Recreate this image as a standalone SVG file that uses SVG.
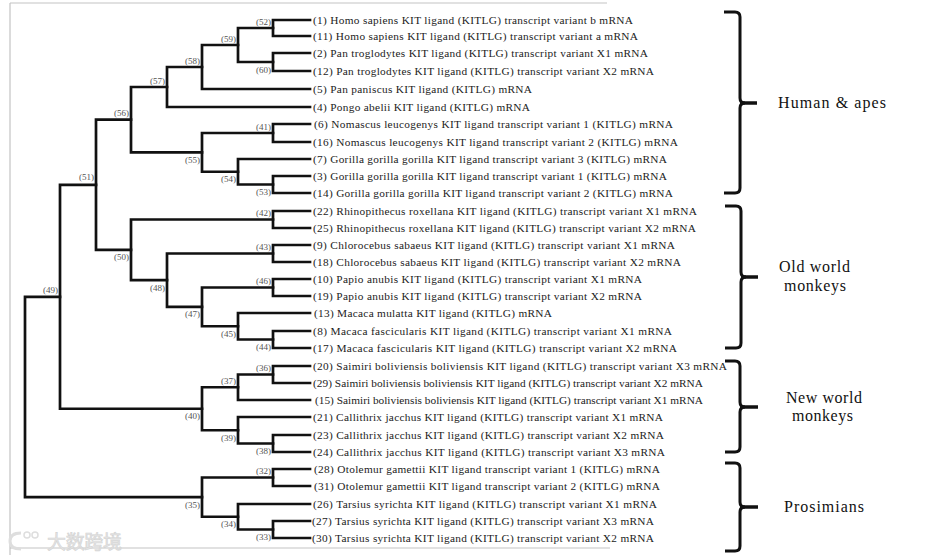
<svg xmlns="http://www.w3.org/2000/svg" width="928" height="558" viewBox="0 0 928 558">
<style>
.frame{stroke:#c4c4c4;stroke-width:1.2;fill:none}
.br{stroke:#111;stroke-width:2.7;fill:none;stroke-linejoin:miter;stroke-linecap:square}
.leaf{font-family:"Liberation Serif","Times New Roman",serif;font-size:11.3px;fill:#222}
.nl{font-family:"Liberation Serif","Times New Roman",serif;font-size:9px;fill:#555;text-anchor:end}
.clade{font-family:"Liberation Serif","Times New Roman",serif;font-size:16px;fill:#111}
.brace{stroke:#111;stroke-width:3;fill:none}
.tip{stroke:#111;stroke-width:3.5}
.wm{font-family:"Noto Sans CJK SC",sans-serif;font-size:19px;fill:#e4e4e4;stroke:#d4d4d4;stroke-width:0.6}
</style>
<rect width="928" height="558" fill="#fff"/>
<g id="frame">
<path class="frame" d="M10,3 H607 M10,3 V555 M10,548 H610"/>
</g>
<g id="connectors">
<path class="br" d="M310,20 H273 V36 H310"/>
<path class="br" d="M310,53 H273 V71 H310"/>
<path class="br" d="M273,28 H238 V62 H273"/>
<path class="br" d="M238,45 H202 V89 H310"/>
<path class="br" d="M202,67 H167 V107 H310"/>
<path class="br" d="M310,124 H273 V142 H310"/>
<path class="br" d="M310,176 H273 V193 H310"/>
<path class="br" d="M310,159 H238 V184.5 H273"/>
<path class="br" d="M273,133 H202 V171.75 H238"/>
<path class="br" d="M167,87 H131 V152.4 H202"/>
<path class="br" d="M310,211 H273 V228 H310"/>
<path class="br" d="M310,245 H273 V262 H310"/>
<path class="br" d="M310,279 H273 V296 H310"/>
<path class="br" d="M310,331 H273 V348 H310"/>
<path class="br" d="M310,313 H238 V339.5 H273"/>
<path class="br" d="M273,287.5 H202 V326.25 H238"/>
<path class="br" d="M273,253.5 H167 V306.9 H202"/>
<path class="br" d="M273,219.5 H131 V280.2 H167"/>
<path class="br" d="M131,119.7 H96 V249.8 H131"/>
<path class="br" d="M310,366 H273 V383 H310"/>
<path class="br" d="M273,374.5 H238 V400 H310"/>
<path class="br" d="M310,435 H273 V452 H310"/>
<path class="br" d="M310,417 H238 V443.5 H273"/>
<path class="br" d="M238,387.25 H202 V430.25 H238"/>
<path class="br" d="M96,184.8 H60 V408.75 H202"/>
<path class="br" d="M310,469 H273 V486 H310"/>
<path class="br" d="M310,521 H273 V538 H310"/>
<path class="br" d="M310,504 H238 V529.5 H273"/>
<path class="br" d="M273,477.5 H202 V516.75 H238"/>
<path class="br" d="M60,296.8 H25 V497.1 H202"/>
</g>
<g id="internal-nodes">
<g id="node-52"><text class="nl" x="271" y="24.5">(52)</text></g>
<g id="node-60"><text class="nl" x="271" y="72.5">(60)</text></g>
<g id="node-59"><text class="nl" x="236" y="41.5">(59)</text></g>
<g id="node-58"><text class="nl" x="200" y="63.5">(58)</text></g>
<g id="node-57"><text class="nl" x="165" y="83.5">(57)</text></g>
<g id="node-56"><text class="nl" x="129" y="116">(56)</text></g>
<g id="node-55"><text class="nl" x="200" y="163">(55)</text></g>
<g id="node-41"><text class="nl" x="271" y="129.5">(41)</text></g>
<g id="node-54"><text class="nl" x="236" y="182">(54)</text></g>
<g id="node-53"><text class="nl" x="271" y="195">(53)</text></g>
<g id="node-51"><text class="nl" x="94" y="180">(51)</text></g>
<g id="node-42"><text class="nl" x="271" y="216">(42)</text></g>
<g id="node-50"><text class="nl" x="129" y="260">(50)</text></g>
<g id="node-43"><text class="nl" x="271" y="250">(43)</text></g>
<g id="node-49"><text class="nl" x="58" y="293">(49)</text></g>
<g id="node-48"><text class="nl" x="165" y="291">(48)</text></g>
<g id="node-46"><text class="nl" x="271" y="284">(46)</text></g>
<g id="node-47"><text class="nl" x="200" y="317">(47)</text></g>
<g id="node-45"><text class="nl" x="236" y="336.5">(45)</text></g>
<g id="node-44"><text class="nl" x="271" y="350">(44)</text></g>
<g id="node-36"><text class="nl" x="271" y="370.5">(36)</text></g>
<g id="node-37"><text class="nl" x="236" y="384">(37)</text></g>
<g id="node-40"><text class="nl" x="200" y="419">(40)</text></g>
<g id="node-39"><text class="nl" x="236" y="440.5">(39)</text></g>
<g id="node-38"><text class="nl" x="271" y="454">(38)</text></g>
<g id="node-32"><text class="nl" x="271" y="474">(32)</text></g>
<g id="node-35"><text class="nl" x="200" y="507.5">(35)</text></g>
<g id="node-34"><text class="nl" x="236" y="527">(34)</text></g>
<g id="node-33"><text class="nl" x="271" y="540">(33)</text></g>
</g>
<g id="leaves">
<g id="leaf-1"><text class="leaf" x="313" y="23.5" textLength="320" lengthAdjust="spacing">(1) Homo sapiens KIT ligand (KITLG) transcript variant b mRNA</text></g>
<g id="leaf-11"><text class="leaf" x="313" y="39.5" textLength="325" lengthAdjust="spacing">(11) Homo sapiens KIT ligand (KITLG) transcript variant a mRNA</text></g>
<g id="leaf-2"><text class="leaf" x="313" y="56.5" textLength="335" lengthAdjust="spacing">(2) Pan troglodytes KIT ligand (KITLG) transcript variant X1 mRNA</text></g>
<g id="leaf-12"><text class="leaf" x="313" y="74.5" textLength="341" lengthAdjust="spacing">(12) Pan troglodytes KIT ligand (KITLG) transcript variant X2 mRNA</text></g>
<g id="leaf-5"><text class="leaf" x="313" y="92.5" textLength="219" lengthAdjust="spacing">(5) Pan paniscus KIT ligand (KITLG) mRNA</text></g>
<g id="leaf-4"><text class="leaf" x="313" y="110.5" textLength="217" lengthAdjust="spacing">(4) Pongo abelii KIT ligand (KITLG) mRNA</text></g>
<g id="leaf-6"><text class="leaf" x="314" y="127.5" textLength="359" lengthAdjust="spacing">(6) Nomascus leucogenys KIT ligand transcript variant 1 (KITLG) mRNA</text></g>
<g id="leaf-16"><text class="leaf" x="313" y="145.5" textLength="365" lengthAdjust="spacing">(16) Nomascus leucogenys KIT ligand transcript variant 2 (KITLG) mRNA</text></g>
<g id="leaf-7"><text class="leaf" x="313" y="162.5" textLength="354" lengthAdjust="spacing">(7) Gorilla gorilla gorilla KIT ligand transcript variant 3 (KITLG) mRNA</text></g>
<g id="leaf-3"><text class="leaf" x="313" y="179.5" textLength="354" lengthAdjust="spacing">(3) Gorilla gorilla gorilla KIT ligand transcript variant 1 (KITLG) mRNA</text></g>
<g id="leaf-14"><text class="leaf" x="313" y="196.5" textLength="360" lengthAdjust="spacing">(14) Gorilla gorilla gorilla KIT ligand transcript variant 2 (KITLG) mRNA</text></g>
<g id="leaf-22"><text class="leaf" x="313" y="214.5" textLength="384" lengthAdjust="spacing">(22) Rhinopithecus roxellana KIT ligand (KITLG) transcript variant X1 mRNA</text></g>
<g id="leaf-25"><text class="leaf" x="313" y="231.5" textLength="383" lengthAdjust="spacing">(25) Rhinopithecus roxellana KIT ligand (KITLG) transcript variant X2 mRNA</text></g>
<g id="leaf-9"><text class="leaf" x="313" y="248.5" textLength="362" lengthAdjust="spacing">(9) Chlorocebus sabaeus KIT ligand (KITLG) transcript variant X1 mRNA</text></g>
<g id="leaf-18"><text class="leaf" x="313" y="265.5" textLength="368" lengthAdjust="spacing">(18) Chlorocebus sabaeus KIT ligand (KITLG) transcript variant X2 mRNA</text></g>
<g id="leaf-10"><text class="leaf" x="313" y="282.5" textLength="329" lengthAdjust="spacing">(10) Papio anubis KIT ligand (KITLG) transcript variant X1 mRNA</text></g>
<g id="leaf-19"><text class="leaf" x="313" y="299.5" textLength="329" lengthAdjust="spacing">(19) Papio anubis KIT ligand (KITLG) transcript variant X2 mRNA</text></g>
<g id="leaf-13"><text class="leaf" x="314" y="316.5" textLength="238" lengthAdjust="spacing">(13) Macaca mulatta KIT ligand (KITLG) mRNA</text></g>
<g id="leaf-8"><text class="leaf" x="313" y="334.5" textLength="359" lengthAdjust="spacing">(8) Macaca fascicularis KIT ligand (KITLG) transcript variant X1 mRNA</text></g>
<g id="leaf-17"><text class="leaf" x="313" y="351.5" textLength="364" lengthAdjust="spacing">(17) Macaca fascicularis KIT ligand (KITLG) transcript variant X2 mRNA</text></g>
<g id="leaf-20"><text class="leaf" x="313" y="369.5" textLength="414" lengthAdjust="spacing">(20) Saimiri boliviensis boliviensis KIT ligand (KITLG) transcript variant X3 mRNA</text></g>
<g id="leaf-29"><text class="leaf" x="313" y="386.5" textLength="390" lengthAdjust="spacing">(29) Saimiri boliviensis boliviensis KIT ligand (KITLG) transcript variant X2 mRNA</text></g>
<g id="leaf-15"><text class="leaf" x="315" y="403.5" textLength="388" lengthAdjust="spacing">(15) Saimiri boliviensis boliviensis KIT ligand (KITLG) transcript variant X1 mRNA</text></g>
<g id="leaf-21"><text class="leaf" x="313" y="420.5" textLength="350" lengthAdjust="spacing">(21) Callithrix jacchus KIT ligand (KITLG) transcript variant X1 mRNA</text></g>
<g id="leaf-23"><text class="leaf" x="313" y="438.5" textLength="351" lengthAdjust="spacing">(23) Callithrix jacchus KIT ligand (KITLG) transcript variant X2 mRNA</text></g>
<g id="leaf-24"><text class="leaf" x="313" y="455.5" textLength="352" lengthAdjust="spacing">(24) Callithrix jacchus KIT ligand (KITLG) transcript variant X3 mRNA</text></g>
<g id="leaf-28"><text class="leaf" x="314" y="472.5" textLength="346" lengthAdjust="spacing">(28) Otolemur gamettii KIT ligand transcript variant 1 (KITLG) mRNA</text></g>
<g id="leaf-31"><text class="leaf" x="314" y="489.5" textLength="346" lengthAdjust="spacing">(31) Otolemur gamettii KIT ligand transcript variant 2 (KITLG) mRNA</text></g>
<g id="leaf-26"><text class="leaf" x="313" y="507.5" textLength="344" lengthAdjust="spacing">(26) Tarsius syrichta KIT ligand (KITLG) transcript variant X1 mRNA</text></g>
<g id="leaf-27"><text class="leaf" x="312" y="524.5" textLength="342" lengthAdjust="spacing">(27) Tarsius syrichta KIT ligand (KITLG) transcript variant X3 mRNA</text></g>
<g id="leaf-30"><text class="leaf" x="312" y="541.5" textLength="342" lengthAdjust="spacing">(30) Tarsius syrichta KIT ligand (KITLG) transcript variant X2 mRNA</text></g>
</g>
<g id="clades">
<g id="clade-human-apes">
<path class="brace" d="M724,12 H735 Q740,12 740,17 V98 Q740,103 745,103 Q740,103 740,108 V188 Q740,193 735,193 H724"/>
<line class="tip" x1="740" y1="103" x2="757" y2="103"/>
<text class="clade" x="778" y="108" textLength="108" lengthAdjust="spacing">Human &amp; apes</text>
</g>
<g id="clade-old-world">
<path class="brace" d="M725,206 H736 Q741,206 741,211 V272 Q741,277 746,277 Q741,277 741,282 V343 Q741,348 736,348 H725"/>
<line class="tip" x1="741" y1="277" x2="758" y2="277"/>
<text class="clade" x="779" y="272" textLength="71" lengthAdjust="spacing">Old world</text>
<text class="clade" x="784" y="291" textLength="62" lengthAdjust="spacing">monkeys</text>
</g>
<g id="clade-new-world">
<path class="brace" d="M725,361 H735 Q740,361 740,366 V402 Q740,407 745,407 Q740,407 740,412 V447 Q740,452 735,452 H725"/>
<line class="tip" x1="740" y1="407" x2="758" y2="407"/>
<text class="clade" x="786" y="403" textLength="76" lengthAdjust="spacing">New world</text>
<text class="clade" x="792" y="421" textLength="61" lengthAdjust="spacing">monkeys</text>
</g>
<g id="clade-prosimians">
<path class="brace" d="M725,463 H735 Q740,463 740,468 V502 Q740,507 745,507 Q740,507 740,512 V546 Q740,551 735,551 H725"/>
<line class="tip" x1="740" y1="507" x2="758" y2="507"/>
<text class="clade" x="784" y="512" textLength="80" lengthAdjust="spacing">Prosimians</text>
</g>
</g>
<g id="watermark">
<path d="M21,533 Q10,533 10,541 Q10,549 21,549" fill="none" stroke="#dedede" stroke-width="3"/>
<circle cx="27" cy="535" r="3" fill="none" stroke="#dedede" stroke-width="1.5"/>
<circle cx="35" cy="535" r="3" fill="none" stroke="#dedede" stroke-width="1.5"/>
<text class="wm" x="47" y="549" textLength="75" lengthAdjust="spacing">大数跨境</text>
</g>
</svg>
